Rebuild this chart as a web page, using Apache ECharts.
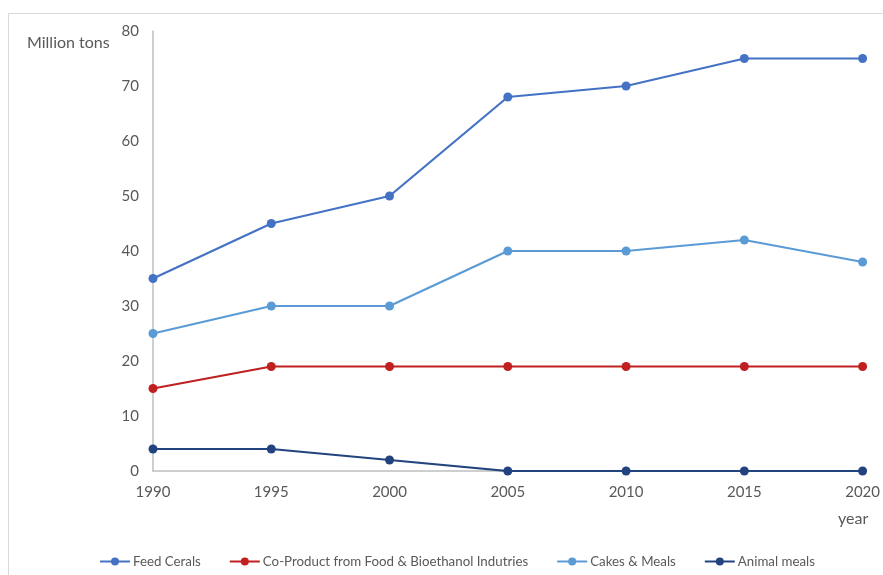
<!DOCTYPE html>
<html>
<head>
<meta charset="utf-8">
<script src="https://cdn.jsdelivr.net/npm/echarts@6/dist/echarts.min.js"></script>
<style>
  html, body { margin: 0; padding: 0; background: #fff; }
  #chart { width: 883px; height: 575px; }
</style>
</head>
<body>
<div id="chart"></div>
<script>
// Feed supply by source, million tons
const years = ['1990', '1995', '2000', '2005', '2010', '2015', '2020'];
const feedCereals = [35, 45, 50, 68, 70, 75, 75];
const coProducts = [15, 19, 19, 19, 19, 19, 19];
const cakesMeals = [25, 30, 30, 40, 40, 42, 38];
const animalMeals = [4, 4, 2, 0, 0, 0, 0];

const seriesNames = [
  'Feed Cerals',
  'Co-Product from Food & Bioethanol Indutries',
  'Cakes & Meals',
  'Animal meals'
];
const seriesData = [feedCereals, coProducts, cakesMeals, animalMeals];
const seriesColors = ['#4472C4', '#C0201F', '#5B9BD5', '#22437E'];

const fontFamily = 'Lato, "Open Sans", sans-serif';
const textColor = '#595959';

const chart = echarts.init(document.getElementById('chart'), null, { renderer: 'canvas' });

chart.setOption({
  animation: false,
  backgroundColor: '#fff',
  textStyle: { fontFamily: fontFamily, color: textColor },
  grid: { left: 153, right: 18, top: 31, bottom: 104, containLabel: false },
  graphic: [
    // light frame along the top and left edges
    { type: 'line', shape: { x1: 8.5, y1: 13.5, x2: 883, y2: 13.5 }, style: { stroke: '#d9d9d9', lineWidth: 1 } },
    { type: 'line', shape: { x1: 8.5, y1: 13.5, x2: 8.5, y2: 575 }, style: { stroke: '#d9d9d9', lineWidth: 1 } },
    { type: 'text', left: 27, top: 35, style: { text: 'Million tons', font: '16px ' + fontFamily, fill: textColor } },
    { type: 'text', left: 838, top: 511, style: { text: 'year', font: '16px ' + fontFamily, fill: textColor } }
  ],
  legend: {
    bottom: 2,
    left: 94,
    itemWidth: 30,
    itemHeight: 10,
    itemGap: 28,
    textStyle: { fontSize: 13.3, color: textColor, fontFamily: fontFamily, padding: [0, 0, 0, -2] },
    data: seriesNames
  },
  xAxis: {
    type: 'category',
    data: years,
    boundaryGap: false,
    axisLine: { lineStyle: { color: '#bfbfbf', width: 1.5 } },
    axisTick: { show: false },
    axisLabel: { fontSize: 15, color: textColor, margin: 14 },
    splitLine: { show: false }
  },
  yAxis: {
    type: 'value',
    min: 0,
    max: 80,
    interval: 10,
    axisLine: { show: true, lineStyle: { color: '#bfbfbf', width: 1.5 } },
    axisTick: { show: false },
    axisLabel: { fontSize: 15, color: textColor, margin: 14 },
    splitLine: { show: false }
  },
  series: seriesNames.map((name, i) => ({
    name: name,
    type: 'line',
    data: seriesData[i],
    color: seriesColors[i],
    symbol: 'circle',
    symbolSize: 9,
    lineStyle: { width: 2.2, color: seriesColors[i] },
    itemStyle: { color: seriesColors[i] }
  }))
});
</script>
</body>
</html>
